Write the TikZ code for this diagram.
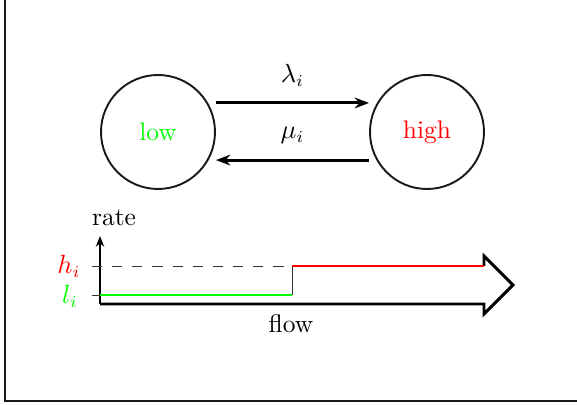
\documentclass[tikz,border=0pt]{standalone}
\usetikzlibrary{arrows.meta}
\begin{document}
\begin{tikzpicture}[x=0.4167pt,y=-0.4167pt,
  every node/.style={font=\fontsize{10.6}{12.5}\selectfont},
  statenode/.style={circle,draw=black!90,line width=0.8pt,minimum size=47.5pt,inner sep=0pt},
  trans/.style={line width=1.25pt,-{Stealth[length=6pt,width=4.5pt]}},
  thinline/.style={line width=0.4pt,black!80}]
\useasboundingbox (0,0) rectangle (577,405);
\draw[line width=0.8pt,black!90] (5,0) -- (5,401) -- (577,401);
% states
\node[statenode,text=green] (low) at (158,132) {low};
\node[statenode,text=red] (high) at (427,132) {high};
\draw[trans] ([yshift=12.1pt]low.east) -- node[above=3pt] {$\lambda_i$} ([yshift=12.1pt]high.west);
\draw[trans] ([yshift=-11.7pt]high.west) -- node[above=3pt] {$\mu_i$} ([yshift=-11.7pt]low.east);
% plot
\coordinate (o) at (100,304);
\coordinate (top) at (100,236);
\coordinate (step) at (292,266);
\draw[line width=1pt,-{Stealth[length=4.5pt,width=3.5pt]}] (o) -- (top);
\node[anchor=base] (ratelbl) at (114,226) {rate};
\draw[thinline,dash pattern=on 4.2pt off 4.2pt] (92,266) -- (step);
\draw[thinline] (92,295) -- (100,295);
\draw[line width=1.2pt,line join=miter] (o) -- (484,304) -- (484,314) -- (513,285) -- (484,256) -- (484,266);
\draw[line width=1pt,green] (100,295) -- (292,295);
\draw[thinline] (292,295) -- (step);
\draw[line width=1pt,red] (step) -- (484,266);
\node[text=red] (hl) at (69,266) {$h_i$};
\node[text=green] (ll) at (70,296) {$l_i$};
\node[anchor=base] (flowlbl) at (291,333) {flow};
\end{tikzpicture}
\end{document}
